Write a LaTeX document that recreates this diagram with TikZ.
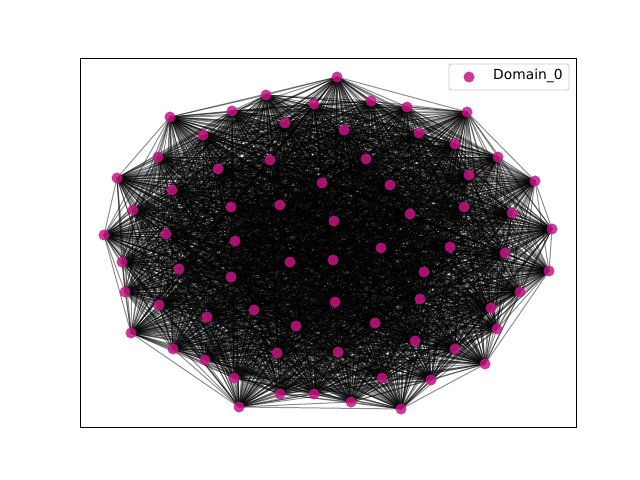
\documentclass[tikz,border=0pt]{standalone}
\usepackage{fontspec}
\setmainfont{DejaVu Sans}
\usetikzlibrary{positioning}
\definecolor{domainpink}{HTML}{C71585}
\definecolor{legendborder}{HTML}{CCCCCC}

\begin{document}
\begin{tikzpicture}[x=0.03cm, y=-0.03cm,
    edge/.style={draw=black, opacity=0.45, line width=0.85pt},
    vertex/.style={circle, fill=domainpink, fill opacity=0.85, inner sep=0pt, minimum size=0.33cm},
    legendbox/.style={draw=legendborder, fill=white, fill opacity=0.8, rounded corners=2pt, line width=0.8pt}]
  \useasboundingbox (0,0) rectangle (640,480);

  % node positions
  \foreach \px/\py [count=\i] in {337/77, 266/95, 314/104, 232/111, 170/117, 285/123, 203/135,
      158/157, 270/160, 218/169, 117/178, 322/183, 172/190, 133/210, 231/207, 280/205,
      334/221, 104/235, 166/234, 235/241, 371/101, 407/107, 467/112, 344/130, 419/133,
      455/144, 498/157, 366/159, 469/175, 535/181, 390/185, 464/207, 512/213, 410/214,
      552/229, 381/248, 450/247, 505/253, 122/262, 179/269, 290/262, 333/260, 231/277,
      125/292, 159/305, 254/310, 335/302, 207/317, 296/326, 131/333, 173/349, 277/353,
      205/360, 338/352, 234/378, 280/394, 314/394, 239/407, 549/271, 424/272, 520/292,
      420/299, 491/308, 375/323, 497/329, 415/341, 455/349, 485/364, 382/378, 431/380,
      351/402, 401/409}
    \coordinate (p\i) at (\px,\py);

  % edges, every pair
  \foreach \i in {1,...,71} {
    \pgfmathtruncatemacro\nxt{\i+1}
    \foreach \j in {\nxt,...,72}
      \draw[edge] (p\i) -- (p\j);
  }

  \foreach \i in {1,...,72}
    \node[vertex] (v\i) at (p\i) {};

  % axes frame
  \draw[line width=0.8pt] (80,58) rectangle (576,427);

  % legend
  \draw[legendbox] (449,64) rectangle (569,90);
  \node[vertex] (legdot) at (469,77) {};
  \node[anchor=west, inner sep=0pt, font=\fontsize{11.8}{14}\selectfont] (legtext) at (493,76) {Domain\_0};
\end{tikzpicture}
\end{document}
